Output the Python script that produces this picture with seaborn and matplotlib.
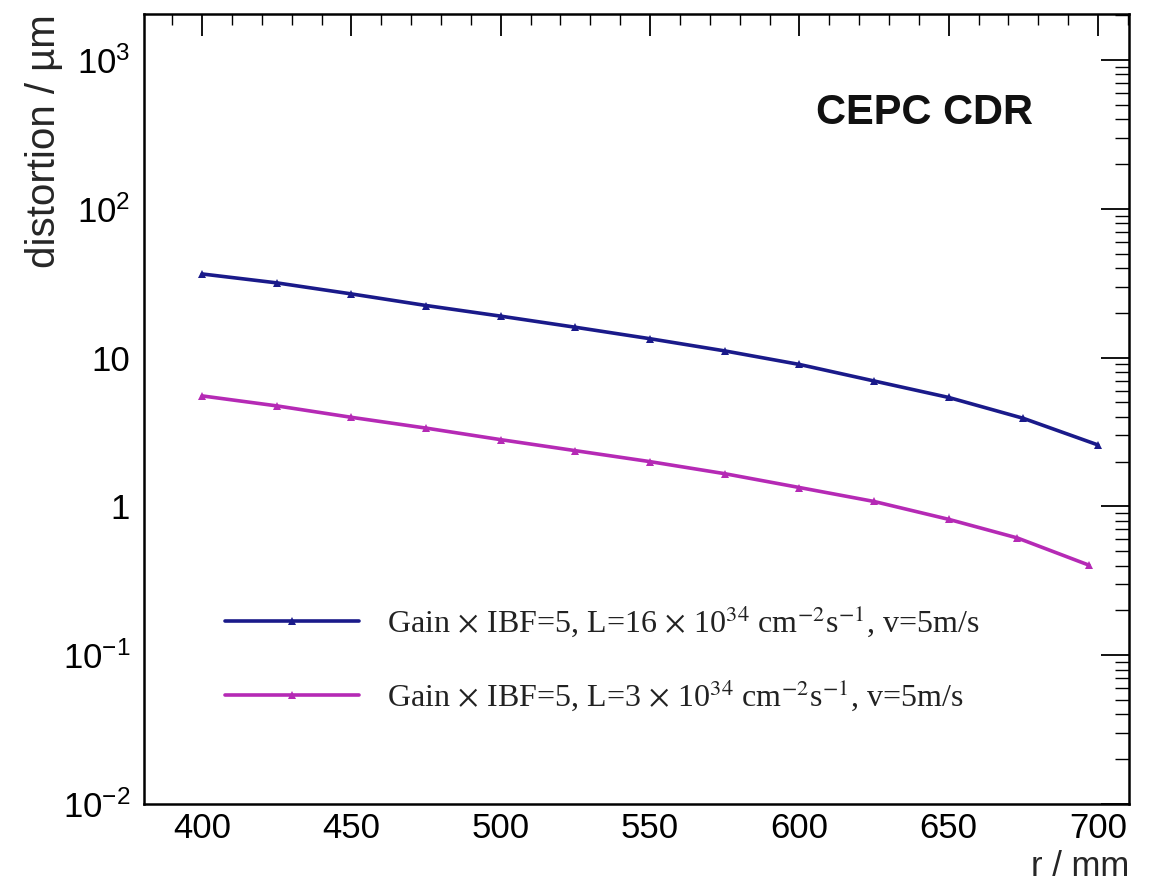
import numpy as np
import pandas as pd
import matplotlib
matplotlib.use("Agg")
import matplotlib.pyplot as plt
import seaborn as sns
from matplotlib.ticker import FixedLocator, FixedFormatter, MultipleLocator, LogLocator, NullFormatter
from matplotlib.font_manager import FontProperties

# ---- data ----
r_high = [400, 425, 450, 475, 500, 525, 550, 575, 600, 625, 650, 675, 700]
d_high = [36.5, 31.8, 26.8, 22.4, 19.0, 16.0, 13.4, 11.1, 9.0, 6.97, 5.40, 3.91, 2.59]
r_low = [400, 425, 450, 475, 500, 525, 550, 575, 600, 625, 650, 673, 697]
d_low = [5.53, 4.74, 3.97, 3.36, 2.81, 2.37, 2.0, 1.66, 1.34, 1.08, 0.819, 0.614, 0.403]
label_high = r'Gain$\,\times\,$IBF=5, L=16$\,\times\,$10$^{34}$ cm$^{-2}$s$^{-1}$, v=5m/s'
label_low = r'Gain$\,\times\,$IBF=5, L=3$\,\times\,$10$^{34}$ cm$^{-2}$s$^{-1}$, v=5m/s'
ytick_vals = [1e-2, 1e-1, 1, 10, 1e2, 1e3]
ytick_labels = [r'$10^{-2}$', r'$10^{-1}$', '1', '10', r'$10^{2}$', r'$10^{3}$']
xtick_vals = [400, 450, 500, 550, 600, 650, 700]

sns.set_style("white")
plt.rcParams['font.family'] = ['Liberation Sans', 'DejaVu Sans']
plt.rcParams['mathtext.fontset'] = 'custom'
plt.rcParams['mathtext.rm'] = 'Liberation Sans'
plt.rcParams['mathtext.it'] = 'Liberation Sans:italic'
plt.rcParams['mathtext.bf'] = 'Liberation Sans:bold'

fig = plt.figure(figsize=(11.49, 8.90), dpi=100)
ax = fig.add_axes([0.1253, 0.0966, 0.8573, 0.8877])

df_high = pd.DataFrame({'r': r_high, 'd': d_high})
df_low = pd.DataFrame({'r': r_low, 'd': d_low})
blue = '#1a1a8a'
magenta = '#b52ab5'
sns.lineplot(data=df_high, x='r', y='d', ax=ax, color=blue, linewidth=2.6,
             marker='^', markersize=6, markeredgewidth=0, label=label_high)
sns.lineplot(data=df_low, x='r', y='d', ax=ax, color=magenta, linewidth=2.6,
             marker='^', markersize=6, markeredgewidth=0, label=label_low)

ax.set_yscale('log')
ax.set_xlim(380.5, 710.4)
ax.set_ylim(1e-2, 2040)

ax.yaxis.set_major_locator(FixedLocator(ytick_vals))
ax.yaxis.set_major_formatter(FixedFormatter(ytick_labels))
ax.yaxis.set_minor_locator(LogLocator(base=10, subs=np.arange(2, 10), numticks=20))
ax.yaxis.set_minor_formatter(NullFormatter())
ax.xaxis.set_major_locator(FixedLocator(xtick_vals))
ax.xaxis.set_minor_locator(MultipleLocator(10))

ax.tick_params(axis='both', which='both', direction='in', top=True, right=True,
               colors='black', labelsize=25)
ax.tick_params(axis='y', which='major', length=20, width=1.3, pad=10)
ax.tick_params(axis='y', which='minor', length=10, width=1.0)
ax.tick_params(axis='x', which='major', length=16, width=1.3, pad=6)
ax.tick_params(axis='x', which='minor', length=8, width=1.0)

for s in ax.spines.values():
    s.set_color('black')
    s.set_linewidth(1.8)

ax.set_xlabel('r / mm', fontsize=25, loc='right')
ax.xaxis.set_label_coords(1.0, -0.058)
ax.set_ylabel('distortion / µm', fontsize=29, loc='top')
ax.yaxis.set_label_coords(-0.082, 1.0)

ax.text(0.682, 0.875, 'CEPC CDR', transform=ax.transAxes, fontsize=30,
        fontweight='bold', ha='left', va='center', color='#111111')

prop = FontProperties(family='Liberation Serif', size=23, math_fontfamily='stix')
leg = ax.legend(loc='upper left', bbox_to_anchor=(0.0822, 0.254), frameon=False,
                prop=prop, handlelength=4.2, handletextpad=0.87, labelspacing=1.2,
                borderpad=0, borderaxespad=0, numpoints=1)
for t in leg.get_texts():
    t.set_color('#222222')

fig.savefig('out.png', dpi=100)
